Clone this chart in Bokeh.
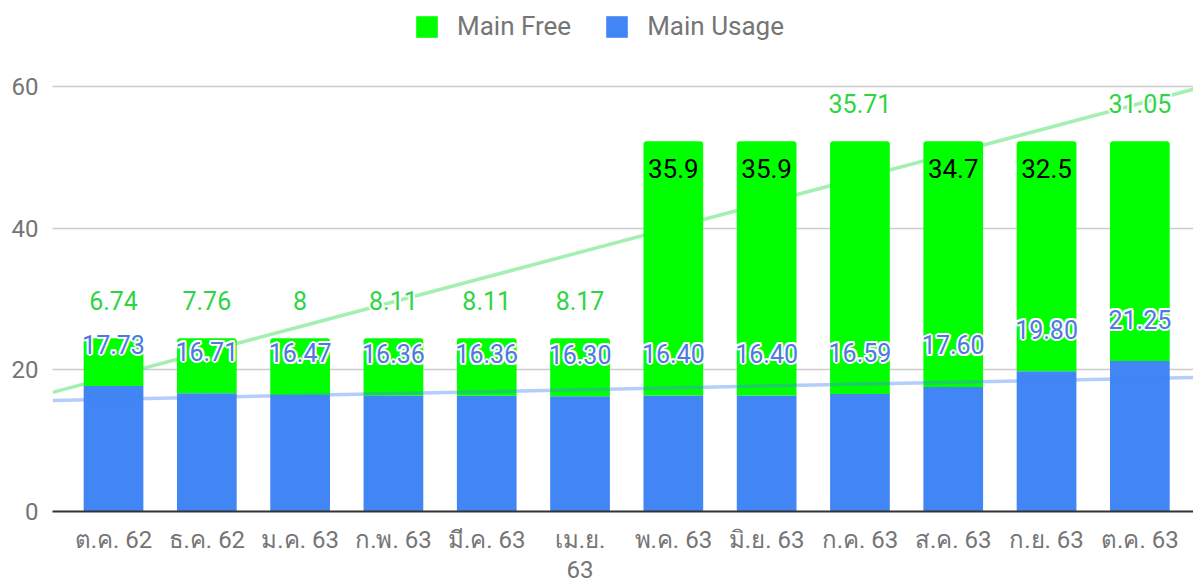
import numpy as np
from bokeh.plotting import figure
from bokeh.models import ColumnDataSource, Legend, LegendItem, FixedTicker, Range1d
from bokeh.core.properties import value
from bokeh.embed import file_html
from bokeh.resources import INLINE

# ---- data ----
months = ["ต.ค. 62", "ธ.ค. 62", "ม.ค. 63", "ก.พ. 63", "มี.ค. 63", "เม.ย.\n63",
          "พ.ค. 63", "มิ.ย. 63", "ก.ค. 63", "ส.ค. 63", "ก.ย. 63", "ต.ค. 63"]
main_usage = [17.73, 16.71, 16.47, 16.36, 16.36, 16.30, 16.40, 16.40, 16.59, 17.60, 19.80, 21.25]
main_free = [6.74, 7.76, 8, 8.11, 8.11, 8.17, 35.9, 35.9, 35.71, 34.7, 32.5, 31.05]
usage_labels = ["17.73", "16.71", "16.47", "16.36", "16.36", "16.30", "16.40", "16.40", "16.59", "17.60", "19.80", "21.25"]
free_labels = ["6.74", "7.76", "8", "8.11", "8.11", "8.17", "35.9", "35.9", "35.71", "34.7", "32.5", "31.05"]
free_label_inside = [False] * 6 + [True, True, False, True, True, False]
y_ticks = [0, 20, 40, 60]

FONT = "Roboto"
GREEN = "#00ff00"
BLUE = "#4285f4"
GRAY = "#757575"

x = list(range(len(months)))
total = [u + f for u, f in zip(main_usage, main_free)]

src = ColumnDataSource(dict(x=x, usage=main_usage, total=total,
                            ulab=usage_labels))
above_src = ColumnDataSource(dict(
    x=[xi for xi, ins in zip(x, free_label_inside) if not ins],
    y=[t for t, ins in zip(total, free_label_inside) if not ins],
    t=[l for l, ins in zip(free_labels, free_label_inside) if not ins]))
inside_src = ColumnDataSource(dict(
    x=[xi for xi, ins in zip(x, free_label_inside) if ins],
    y=[t for t, ins in zip(total, free_label_inside) if ins],
    t=[l for l, ins in zip(free_labels, free_label_inside) if ins]))

W, H = 1193, 587
X0, X1 = -0.654, 11.575
# the plot area reaches the top edge so the legend can sit above the 60 line
p = figure(width=W, height=H, output_backend="svg", toolbar_location=None,
           x_range=Range1d(X0, X1), y_range=Range1d(0, 72.2),
           min_border_left=52, min_border_right=0, min_border_top=0,
           min_border_bottom=73)
p.outline_line_color = None
p.background_fill_color = "white"
p.border_fill_color = "white"

# trendlines (least squares on the plotted values)
xs = np.array(x, dtype=float)
xe = np.array([X0, X1])
k1, b1 = np.polyfit(xs, np.array(total), 1)
k2, b2 = np.polyfit(xs, np.array(main_usage), 1)
p.line(xe, k1 * xe + b1, line_color="#33dd55", line_alpha=0.45, line_width=3.5)

# bars
r_usage = p.vbar(x="x", top="usage", bottom=0, width=0.64, source=src,
                 fill_color=BLUE, line_color=None)
r_free = p.vbar(x="x", top="total", bottom="usage", width=0.64, source=src,
                fill_color=GREEN, line_color=None, border_radius=(3, 3, 0, 0))

p.line(xe, k2 * xe + b2, line_color=BLUE, line_alpha=0.4, line_width=3.5)


def halo_text(source, ycol, tcol, yoff, size, color):
    for dx, dy in [(-2, 0), (2, 0), (0, -2), (0, 2),
                   (-1.5, -1.5), (1.5, -1.5), (-1.5, 1.5), (1.5, 1.5)]:
        p.text(x="x", y=ycol, text=tcol, source=source, text_align="center",
               text_baseline="middle", x_offset=dx, y_offset=yoff + dy,
               text_font=value(FONT), text_font_size=size, text_color="white")
    p.text(x="x", y=ycol, text=tcol, source=source, text_align="center",
           text_baseline="middle", y_offset=yoff, text_font=value(FONT),
           text_font_size=size, text_color=color)


halo_text(src, "usage", "ulab", -42, "25px", "#4f78e0")
halo_text(above_src, "y", "t", -38, "25px", "#2fd444")
p.text(x="x", y="y", text="t", source=inside_src, text_align="center",
       text_baseline="middle", y_offset=27, text_font=value(FONT),
       text_font_size="26px", text_color="black")

# axes
p.xaxis.ticker = FixedTicker(ticks=x)
p.xaxis.major_label_overrides = {i: m for i, m in enumerate(months)}
p.xaxis.major_tick_line_color = None
p.xaxis.major_tick_out = 0
p.xaxis.major_tick_in = 0
p.xaxis.minor_tick_line_color = None
p.xaxis.axis_line_color = "#333333"
p.xaxis.axis_line_width = 2
p.xaxis.major_label_text_font = FONT
p.xaxis.major_label_text_font_size = "24px"
p.xaxis.major_label_text_color = GRAY
p.xaxis.major_label_text_line_height = 1.1
p.xaxis.major_label_standoff = 14

p.yaxis.ticker = FixedTicker(ticks=y_ticks)
p.yaxis.axis_line_color = None
p.yaxis.major_tick_line_color = None
p.yaxis.major_tick_out = 0
p.yaxis.major_tick_in = 0
p.yaxis.minor_tick_line_color = None
p.yaxis.major_label_text_font = FONT
p.yaxis.major_label_text_font_size = "24px"
p.yaxis.major_label_text_color = GRAY
p.yaxis.major_label_standoff = 14

p.xgrid.grid_line_color = None
p.ygrid.ticker = FixedTicker(ticks=y_ticks)
p.ygrid.grid_line_color = "#cccccc"
p.ygrid.grid_line_width = 1.5

legend = Legend(items=[LegendItem(label="Main Free", renderers=[r_free]),
                       LegendItem(label="Main Usage", renderers=[r_usage])],
                orientation="horizontal", location=(361, 470))
legend.label_text_font = FONT
legend.label_text_font_size = "26px"
legend.label_text_color = GRAY
legend.glyph_width = 27
legend.glyph_height = 27
legend.label_standoff = 17
legend.spacing = 32
legend.padding = 0
legend.margin = 0
legend.border_line_color = None
legend.background_fill_alpha = 0
p.add_layout(legend, "center")

open("out.html", "w").write(file_html(p, INLINE))
